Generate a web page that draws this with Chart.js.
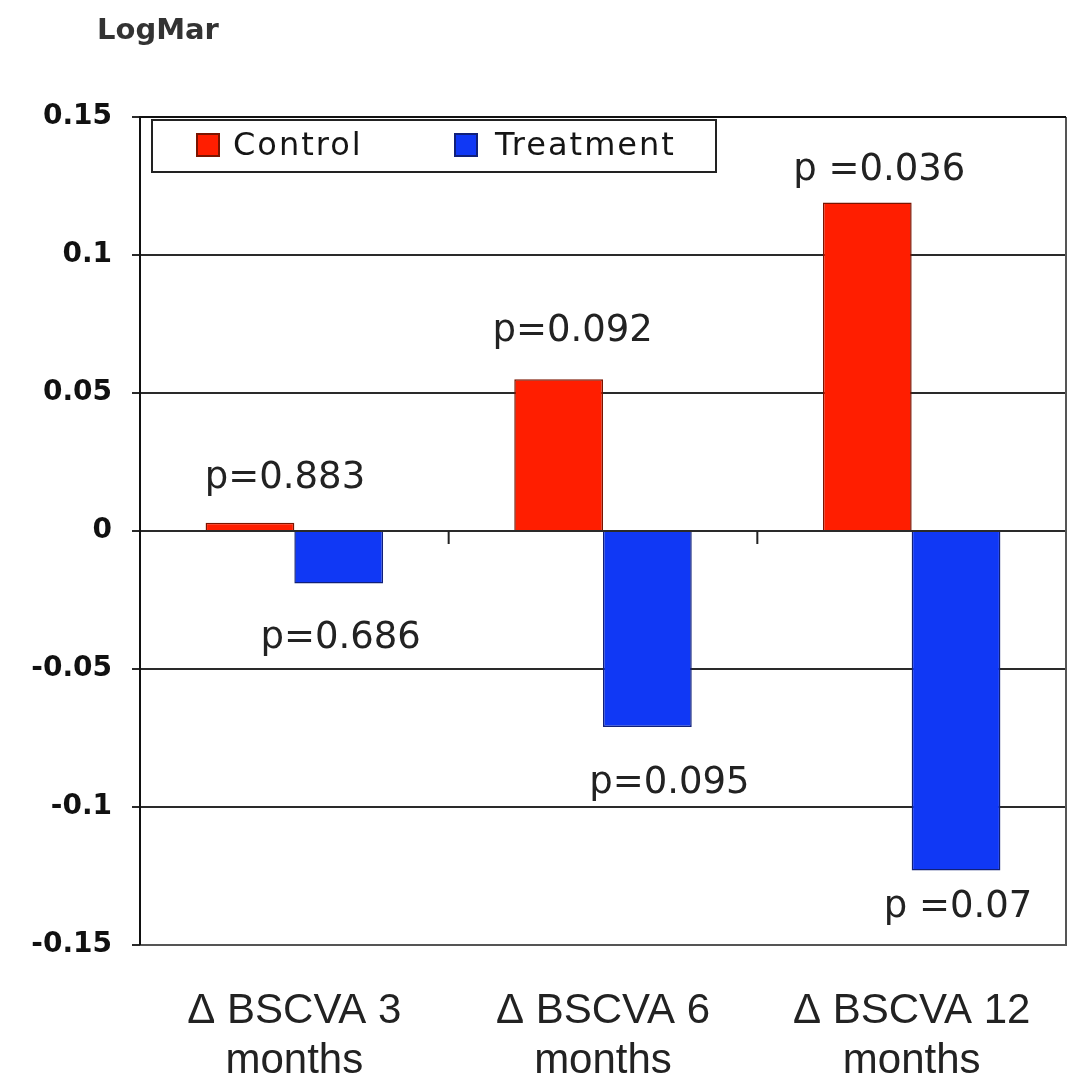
<!DOCTYPE html>
<html>
<head>
<meta charset="utf-8">
<title>LogMar BSCVA</title>
<script src="https://cdn.jsdelivr.net/npm/chart.js@4.4.1/dist/chart.umd.min.js"></script>
<style>
  body { margin: 0; background: #fff; }
  #wrap { width: 1072px; height: 1081px; }
</style>
</head>
<body>
<div id="wrap"><canvas id="bscvaChart" width="1072" height="1081"></canvas></div>
<script>
const categories = [['\u0394 BSCVA 3', 'months'], ['\u0394 BSCVA 6', 'months'], ['\u0394 BSCVA 12', 'months']];
const controlValues = [0.003, 0.055, 0.119];
const treatmentValues = [-0.019, -0.071, -0.123];
const controlPLabels = ['p=0.883', 'p=0.092', 'p =0.036'];
const treatmentPLabels = ['p=0.686', 'p=0.095', 'p =0.07'];
const yTickLabels = ['-0.15', '-0.1', '-0.05', '0', '0.05', '0.1', '0.15'];

// p label placement: [dx from bar centre, dy from bar end to text baseline]
const controlLabelOffsets = [[35, -35], [14, -38], [12, -23]];
const treatmentLabelOffsets = [[2, 65], [22, 66], [2, 47]];

const RED = '#ff1e00';
const BLUE = '#1038f5';

// frame, zero-line category ticks, p labels, legend box and unit label
const decorations = {
  id: 'decorations',
  afterDatasetsDraw(chart) {
    const ctx = chart.ctx;
    const area = chart.chartArea;
    const x = chart.scales.x;
    const y = chart.scales.y;
    const y0 = y.getPixelForValue(0);

    ctx.save();

    // plot frame
    ctx.lineWidth = 2;
    ctx.strokeStyle = '#555';
    ctx.beginPath();
    ctx.moveTo(area.left, area.bottom);
    ctx.lineTo(area.right, area.bottom);
    ctx.lineTo(area.right, area.top);
    ctx.stroke();
    ctx.strokeStyle = '#111';
    ctx.beginPath();
    ctx.moveTo(area.right, area.top);
    ctx.lineTo(area.left, area.top);
    ctx.lineTo(area.left, area.bottom);
    ctx.stroke();

    // category separators on the zero line
    ctx.strokeStyle = '#222';
    for (let i = 1; i < categories.length; i++) {
      const px = (x.getPixelForValue(i - 1) + x.getPixelForValue(i)) / 2;
      ctx.beginPath();
      ctx.moveTo(px, y0);
      ctx.lineTo(px, y0 + 13);
      ctx.stroke();
    }

    // p values
    ctx.font = '37px "DejaVu Sans"';
    ctx.fillStyle = '#222';
    ctx.textAlign = 'center';
    ctx.textBaseline = 'alphabetic';
    const groups = [
      [0, controlPLabels, controlLabelOffsets],
      [1, treatmentPLabels, treatmentLabelOffsets]
    ];
    groups.forEach(([dsIndex, labels, offsets]) => {
      chart.getDatasetMeta(dsIndex).data.forEach((bar, i) => {
        ctx.fillText(labels[i], bar.x + offsets[i][0], bar.y + offsets[i][1]);
      });
    });

    // legend
    const lx = area.left + 12, ly = area.top + 3;
    ctx.fillStyle = '#fff';
    ctx.fillRect(lx, ly, 564, 52);
    ctx.strokeStyle = '#222';
    ctx.lineWidth = 2;
    ctx.strokeRect(lx, ly, 564, 52);
    ctx.font = '32px "DejaVu Sans"';
    ctx.letterSpacing = '2px';
    ctx.textAlign = 'left';
    ctx.textBaseline = 'middle';
    const items = [
      [chart.data.datasets[0], 45, 81],
      [chart.data.datasets[1], 303, 343]
    ];
    items.forEach(([ds, sx, tx]) => {
      ctx.fillStyle = ds.backgroundColor;
      ctx.fillRect(lx + sx, ly + 14, 22, 22);
      ctx.strokeStyle = ds.borderColor;
      ctx.lineWidth = 2;
      ctx.strokeRect(lx + sx, ly + 14, 22, 22);
      ctx.fillStyle = '#151515';
      ctx.fillText(ds.label, lx + tx, ly + 27);
    });
    ctx.letterSpacing = '0px';

    // unit label above the axis
    ctx.font = 'bold 29px "DejaVu Sans"';
    ctx.fillStyle = '#333';
    ctx.textBaseline = 'alphabetic';
    ctx.fillText('LogMar', area.left - 43, area.top - 78);

    ctx.restore();
  }
};

new Chart(document.getElementById('bscvaChart'), {
  type: 'bar',
  data: {
    labels: categories,
    datasets: [
      {
        label: 'Control',
        data: controlValues,
        backgroundColor: RED,
        borderColor: '#7a1400',
        borderWidth: 1.5
      },
      {
        label: 'Treatment',
        data: treatmentValues,
        backgroundColor: BLUE,
        borderColor: '#10207a',
        borderWidth: 1.5
      }
    ]
  },
  options: {
    responsive: false,
    animation: false,
    layout: { padding: { top: 117, right: 6, bottom: 0, left: 0 } },
    datasets: {
      bar: { categoryPercentage: 0.575, barPercentage: 1.0 }
    },
    plugins: {
      legend: { display: false },
      tooltip: { enabled: false }
    },
    scales: {
      x: {
        grid: { display: false },
        border: { display: false },
        ticks: {
          color: '#222',
          font: { family: '"Liberation Sans"', size: 42, lineHeight: 1.2 },
          padding: 33,
          maxRotation: 0,
          autoSkip: false
        },
        afterFit(scale) { scale.height = 136; }
      },
      y: {
        min: -0.15,
        max: 0.15,
        grid: { color: '#2a2a2a', lineWidth: 2, tickLength: 8, drawTicks: true },
        border: { display: false },
        ticks: {
          stepSize: 0.05,
          color: '#111',
          padding: 20,
          font: { family: '"DejaVu Sans"', size: 28, weight: 'bold' },
          callback: (value, index) => yTickLabels[index]
        },
        afterFit(scale) { scale.width = 140; }
      }
    }
  },
  plugins: [decorations]
});
</script>
</body>
</html>
